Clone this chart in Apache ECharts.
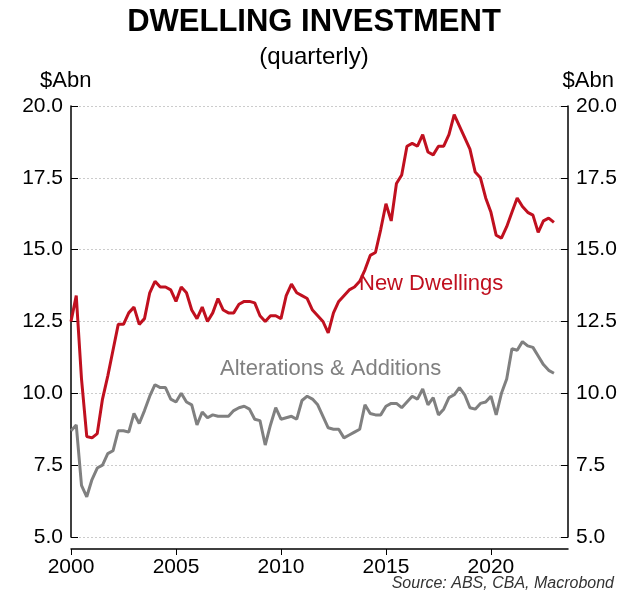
<!DOCTYPE html>
<html><head><meta charset="utf-8">
<script src="https://cdn.jsdelivr.net/npm/echarts@6/dist/echarts.min.js"></script>
<style>body{margin:0;background:#fff}#c{width:628px;height:604px}</style>
</head><body><div id="c"></div>
<script>
// quarterly, 2000 Q1 .. 2023 Q1
const startYear = 2000;
const newDwellings = [12.5,13.4,10.5,8.5, 8.45,8.6,9.8,10.6, 11.5,12.4,12.4,12.8, 13.0,12.4,12.6,13.5,
  13.9,13.7,13.7,13.6, 13.2,13.7,13.5,12.9, 12.6,13.0,12.5,12.8, 13.3,12.9,12.8,12.8,
  13.1,13.2,13.2,13.15, 12.7,12.5,12.7,12.7, 12.6,13.4,13.8,13.5, 13.4,13.3,12.9,12.7,
  12.5,12.1,12.8,13.2, 13.4,13.6,13.7,13.9, 14.3,14.8,14.9,15.7, 16.6,16.0,17.3,17.6,
  18.6,18.7,18.6,19.0, 18.4,18.3,18.6,18.6, 19.0,19.7,19.3,18.9, 18.5,17.7,17.5,16.8,
  16.3,15.5,15.4,15.8, 16.3,16.8,16.5,16.3, 16.2,15.6,16.0,16.1, 15.95];
const alterations = [8.7,8.9,6.8,6.4, 7.0,7.4,7.5,7.9, 8.0,8.7,8.7,8.65, 9.3,8.95,9.4,9.9,
  10.3,10.2,10.2,9.8, 9.7,10.0,9.7,9.6, 8.9,9.35,9.15,9.25, 9.2,9.2,9.2,9.4,
  9.5,9.55,9.45,9.1, 9.05,8.2,8.9,9.5, 9.1,9.15,9.2,9.1, 9.75,9.9,9.8,9.6,
  9.2,8.8,8.75,8.75, 8.45,8.55,8.65,8.75, 9.6,9.3,9.25,9.25, 9.55,9.65,9.65,9.5,
  9.7,9.9,9.8,10.15, 9.6,9.85,9.25,9.45, 9.85,9.95,10.2,9.95, 9.5,9.45,9.65,9.7,
  9.9,9.25,10.0,10.5, 11.55,11.5,11.8,11.65, 11.6,11.3,11.0,10.8, 10.7];

const toPairs = arr => arr.map((v, i) => [startYear + i * 0.25, v]);
const font = 'Liberation Sans';

let myChart = echarts.init(document.getElementById('c'));
let yAxisBase = {
    type: 'value', min: 5, max: 20, interval: 2.5,
    axisLine: { show: true, lineStyle: { color: '#000', width: 1.5 } },
    axisTick: { show: true, inside: true, length: 7, lineStyle: { color: '#000' } },
    axisLabel: { color: '#000', fontSize: 21, fontFamily: font, formatter: v => v.toFixed(1) },
    splitLine: { show: true, lineStyle: { color: '#ccc', type: [2, 2] } }
};
myChart.setOption({
    animation: false,
    title: [
        { text: 'DWELLING INVESTMENT', left: 'center', top: 2, textStyle: { fontFamily: font, fontSize: 31, fontWeight: 'bold', color: '#000' } },
        { text: '(quarterly)', left: 'center', top: 40, textStyle: { fontFamily: font, fontSize: 24, fontWeight: 'normal', color: '#000' } }
    ],
    graphic: [
        { type: 'text', left: 40, top: 70, style: { text: '$Abn', font: '22px ' + font, fill: '#000' } },
        { type: 'text', right: 14, top: 70, style: { text: '$Abn', font: '22px ' + font, fill: '#000' } },
        { type: 'text', left: 359, top: 273, style: { text: 'New Dwellings', font: '22px ' + font, fill: '#c0101f' } },
        { type: 'text', left: 220, top: 358, style: { text: 'Alterations & Additions', font: '22px ' + font, fill: '#808080' } },
        { type: 'text', right: 14, top: 576, style: { text: 'Source: ABS, CBA, Macrobond', font: 'italic 16px ' + font, fill: '#333' } }
    ],
    grid: { left: 71, right: 60, top: 106, bottom: 67 },
    xAxis: {
        type: 'value', min: 2000, max: 2023.67, interval: 5, offset: 12,
        axisLine: { show: true, lineStyle: { color: '#000', width: 1.5 } },
        axisTick: { show: true, length: 6, lineStyle: { color: '#000' } },
        axisLabel: { color: '#000', fontSize: 21, fontFamily: font, showMaxLabel: false, formatter: v => String(v) },
        splitLine: { show: false }
    },
    yAxis: [
        Object.assign({}, yAxisBase, { position: 'left' }),
        Object.assign({}, yAxisBase, { position: 'right', splitLine: { show: false } })
    ],
    series: [
        { name: 'New Dwellings', type: 'line', data: toPairs(newDwellings), showSymbol: false,
          lineStyle: { color: '#c0101f', width: 3 } },
        { name: 'Alterations & Additions', type: 'line', data: toPairs(alterations), showSymbol: false,
          lineStyle: { color: '#808080', width: 3 } }
    ]
});
</script></body></html>
